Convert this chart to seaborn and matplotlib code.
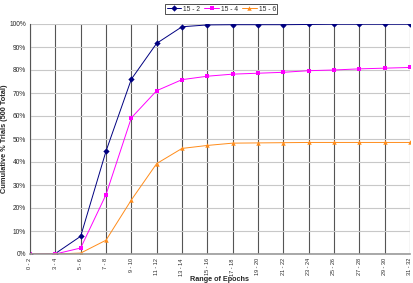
import pandas as pd
import matplotlib.pyplot as plt
import seaborn as sns
from matplotlib.ticker import PercentFormatter

# Data
epochs = ["0 - 2", "3 - 4", "5 - 6", "7 - 8", "9 - 10", "11 - 12", "13 - 14", "15 - 16",
          "17 - 18", "19 - 20", "21 - 22", "23 - 24", "25 - 26", "27 - 28", "29 - 30", "31 - 32"]
series_names = ["15 - 2", "15 - 4", "15 - 6"]
s15_2 = [0.0, 0.2, 7.7, 44.7, 76.0, 91.6, 98.8, 99.6, 99.7, 99.7, 99.7, 99.8, 99.9, 99.9, 99.9, 99.9]
s15_4 = [0.0, 0.0, 2.6, 25.8, 59.2, 71.0, 75.8, 77.3, 78.2, 78.6, 79.0, 79.7, 80.0, 80.5, 80.8, 81.1]
s15_6 = [0.0, 0.0, 0.4, 6.0, 23.5, 39.3, 45.9, 47.2, 48.2, 48.3, 48.4, 48.5, 48.5, 48.5, 48.5, 48.5]

rows = []
for name, vals in zip(series_names, [s15_2, s15_4, s15_6]):
    for i, v in enumerate(vals):
        rows.append({"pos": i, "Epochs": epochs[i], "pct": v, "Series": name})
df = pd.DataFrame(rows)

sns.set_style("white")
plt.rcParams['font.family'] = ['Liberation Sans', 'DejaVu Sans']

fig = plt.figure(figsize=(4.14, 2.83), dpi=100)
ax = fig.add_axes([30 / 414, 1 - 254 / 283, 380 / 414, 230 / 283])

palette = {"15 - 2": "#000080", "15 - 4": "#FF00FF", "15 - 6": "#FF8C1A"}
sns.lineplot(data=df, x="pos", y="pct", hue="Series", style="Series",
             markers={"15 - 2": "D", "15 - 4": "s", "15 - 6": "^"}, dashes=False,
             palette=palette, linewidth=0.7, markersize=3.2, markeredgewidth=0,
             ax=ax, legend=True)

ax.set_xlim(0, len(epochs) - 1)
ax.set_ylim(0, 100)
ax.set_xticks(range(len(epochs)))
ax.set_xticklabels(epochs, rotation=90, fontsize=4.0)
ax.set_yticks(range(0, 101, 10))
ax.yaxis.set_major_formatter(PercentFormatter(decimals=0))
ax.tick_params(axis='y', labelsize=4.8, length=2, pad=1)
ax.tick_params(axis='x', length=2, pad=1)

ax.grid(axis='y', color='#c8c8c8', linewidth=0.8)
ax.grid(axis='x', color='#555555', linewidth=0.8)
ax.set_axisbelow(True)
for side in ['top', 'right']:
    ax.spines[side].set_visible(False)
ax.spines['left'].set_color('#555555')
ax.spines['bottom'].set_color('#999999')
ax.spines['bottom'].set_linewidth(1.2)

ax.set_xlabel("Range of Epochs", fontsize=5.2, fontweight='bold', labelpad=0)
ax.set_ylabel("Cumulative % Trials (500 Total)", fontsize=5.3, fontweight='bold', labelpad=1)

leg = ax.legend(loc='center', bbox_to_anchor=(0.503, 1.065), ncol=3, fontsize=4.8,
                frameon=True, fancybox=False, edgecolor='black', handlelength=2.2,
                columnspacing=0.6, handletextpad=0.3, borderpad=0.25, title=None)
leg.get_frame().set_linewidth(0.6)

fig.savefig("out.png", dpi=100)
